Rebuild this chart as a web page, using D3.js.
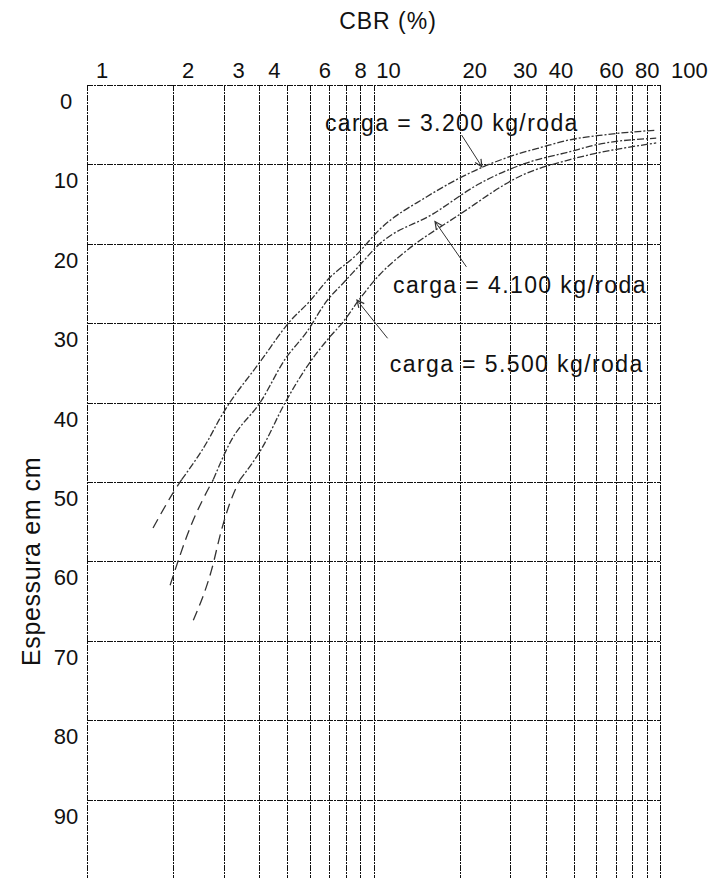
<!DOCTYPE html>
<html>
<head>
<meta charset="utf-8">
<script src="https://cdn.jsdelivr.net/npm/d3@7"></script>
<style>
  html, body { margin: 0; padding: 0; background: #fff; }
  svg { display: block; }
  text { font-family: "Liberation Sans", Arial, sans-serif; fill: #111; }
</style>
</head>
<body>
<svg id="chart" width="717" height="878"></svg>
<script>
// CBR (%) on a log axis, pavement thickness (cm) downwards
const xGridValues = [1, 2, 3, 4, 5, 6, 7, 8, 9, 10, 20, 30, 40, 50, 60, 70, 80, 90, 100];
const xTickLabels = [1, 2, 3, 4, 6, 8, 10, 20, 30, 40, 60, 80, 100];
const yTickValues = [0, 10, 20, 30, 40, 50, 60, 70, 80, 90, 100];
const yTickLabels = [0, 10, 20, 30, 40, 50, 60, 70, 80, 90];

// design curves: [CBR %, thickness cm]
const curve3200 = [
  [1.70, 55.8], [1.98, 51.6], [2.14, 49.7], [2.65, 44.7], [2.91, 42.0], [4.07, 34.6],
  [5.1, 29.8], [6.0, 27.2], [6.93, 24.5], [8.77, 21.3], [10.5, 18.2], [15.3, 14.1],
  [23.5, 10.5], [30, 9.0], [39, 7.8], [48.5, 6.9], [63, 6.3], [96, 5.7]
];
const curve4100 = [
  [1.95, 63.0], [2.3, 55.6], [2.76, 49.7], [3.15, 45.1], [4.07, 39.7], [4.9, 34.6],
  [5.85, 31.1], [6.87, 27.2], [7.86, 24.9], [9.0, 22.6], [10.3, 20.3], [16.2, 16.2],
  [23.5, 12.4], [35, 9.7], [48.5, 8.4], [58.6, 7.6], [97, 6.7]
];
const curve5500 = [
  [2.35, 67.4], [2.72, 61.1], [2.95, 56.0], [3.15, 52.7], [3.42, 49.7], [4.07, 45.8],
  [4.9, 40.1], [5.85, 35.5], [7.05, 31.7], [7.85, 29.8], [8.84, 27.2], [10.5, 23.9],
  [12.7, 21.2], [19.8, 16.4], [33.3, 11.3], [48.5, 9.4], [97, 7.3]
];
const seriesNames = ["carga = 3.200 kg/roda", "carga = 4.100 kg/roda", "carga = 5.500 kg/roda"];

// label anchors and pointer arrows, in data units [CBR, cm]
const labelAnchors = [[6.77, 5.8], [11.7, 26.2], [11.4, 36.1]];
const arrowTails = [[20.3, 6.3], [21.1, 22.9], [11.2, 31.9]];
const arrowTips = [[23.9, 10.3], [16.4, 17.2], [8.76, 27.1]];

const svg = d3.select("#chart");
const x = d3.scaleLog().domain([1, 100]).range([87, 660]);
const y = d3.scaleLinear().domain([0, 100]).range([85, 879]);
const last = xTickLabels[xTickLabels.length - 1];

// grid
const grid = svg.append("g").attr("stroke", "#111").attr("stroke-width", 1)
  .attr("stroke-dasharray", "6,1,2,1").attr("fill", "none");
grid.selectAll("line.v").data(xGridValues).join("line")
  .attr("class", "v")
  .attr("x1", d => Math.round(x(d)) + 0.5).attr("x2", d => Math.round(x(d)) + 0.5)
  .attr("y1", y(0)).attr("y2", y(100));
grid.selectAll("line.h").data(yTickValues).join("line")
  .attr("class", "h")
  .attr("x1", x(1)).attr("x2", x(100))
  .attr("y1", d => Math.round(y(d)) + 0.5).attr("y2", d => Math.round(y(d)) + 0.5);

// top axis labels: numbers sit just right of their grid lines
svg.append("g").selectAll("text").data(xTickLabels).join("text")
  .attr("x", d => d === last ? x(d) + 11 : x(d) + 15).attr("y", 78)
  .attr("text-anchor", d => d === last ? "start" : "middle").attr("font-size", 22)
  .text(d => d);

svg.append("text").attr("x", 388).attr("y", 29).attr("text-anchor", "middle")
  .attr("font-size", 23).attr("letter-spacing", 1).text("CBR (%)");

// left axis labels
svg.append("g").selectAll("text").data(yTickLabels).join("text")
  .attr("x", 66).attr("y", d => y(d) + 24)
  .attr("text-anchor", "middle").attr("font-size", 22)
  .text(d => d);

svg.append("text")
  .attr("transform", `translate(40, ${y(60)}) rotate(-90)`)
  .attr("text-anchor", "middle").attr("font-size", 25).attr("letter-spacing", 0.6)
  .text("Espessura em cm");

// curves: dashed lower tail, dash-dot main body
const line = d3.line().x(d => x(d[0])).y(d => y(d[1])).curve(d3.curveMonotoneX);
const curves = [curve3200, curve4100, curve5500];
const cg = svg.append("g").attr("fill", "none").attr("stroke", "#333").attr("stroke-width", 1.3);
curves.forEach(pts => {
  const k = pts.findIndex(p => p[1] <= 50);
  cg.append("path").attr("d", line(pts.slice(0, k + 1))).attr("stroke-dasharray", "10,6");
  cg.append("path").attr("d", line(pts.slice(k))).attr("stroke-dasharray", "7,2,2,2");
});

// series labels and pointer arrows
const ag = svg.append("g");
seriesNames.forEach((name, i) => {
  ag.append("text")
    .attr("x", x(labelAnchors[i][0])).attr("y", y(labelAnchors[i][1]))
    .attr("font-size", 23).attr("letter-spacing", 1.4)
    .text(name);
  const t = arrowTails[i], h = arrowTips[i];
  const x1 = x(t[0]), y1 = y(t[1]), x2 = x(h[0]), y2 = y(h[1]);
  ag.append("line").attr("x1", x1).attr("y1", y1).attr("x2", x2).attr("y2", y2)
    .attr("stroke", "#333").attr("stroke-width", 1);
  const ang = Math.atan2(y2 - y1, x2 - x1);
  const L = 8, a = 0.45;
  ag.append("path")
    .attr("d", `M${x2 - L * Math.cos(ang - a)},${y2 - L * Math.sin(ang - a)} L${x2},${y2} L${x2 - L * Math.cos(ang + a)},${y2 - L * Math.sin(ang + a)}`)
    .attr("fill", "none").attr("stroke", "#333").attr("stroke-width", 1.2);
});
</script>
</body>
</html>
